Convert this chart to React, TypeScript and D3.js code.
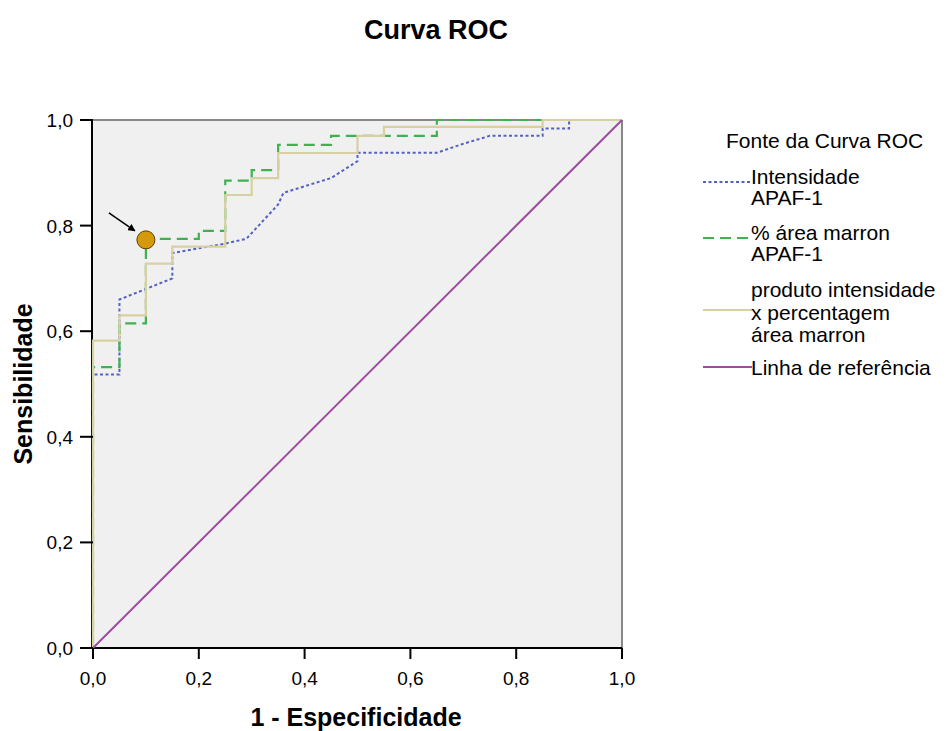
import * as d3 from 'd3';

type Pt = [number, number];

// curve points (1 - especificidade, sensibilidade)
const intensidade: Pt[] = [
  [0, 0], [0, 0.518], [0.05, 0.518], [0.05, 0.66], [0.15, 0.70], [0.15, 0.748],
  [0.25, 0.766], [0.29, 0.775], [0.35, 0.84], [0.36, 0.862], [0.45, 0.89],
  [0.5, 0.922], [0.5, 0.938], [0.65, 0.938], [0.7, 0.955], [0.75, 0.97],
  [0.85, 0.97], [0.85, 0.984], [0.9, 0.984], [0.9, 1], [1, 1],
];
const areaMarron: Pt[] = [
  [0, 0], [0, 0.532], [0.05, 0.532], [0.05, 0.615], [0.1, 0.615], [0.1, 0.775],
  [0.2, 0.775], [0.2, 0.79], [0.25, 0.79], [0.25, 0.885], [0.3, 0.885],
  [0.3, 0.905], [0.35, 0.905], [0.35, 0.953], [0.45, 0.953], [0.45, 0.97],
  [0.65, 0.97], [0.65, 1], [1, 1],
];
const produto: Pt[] = [
  [0, 0], [0, 0.582], [0.05, 0.582], [0.05, 0.63], [0.1, 0.63], [0.1, 0.728],
  [0.15, 0.728], [0.15, 0.76], [0.25, 0.76], [0.25, 0.858], [0.3, 0.858],
  [0.3, 0.89], [0.35, 0.89], [0.35, 0.9375], [0.5, 0.9375], [0.5, 0.97],
  [0.55, 0.97], [0.55, 0.987], [0.85, 0.987], [0.85, 1], [1, 1],
];
const referencia: Pt[] = [[0, 0], [1, 1]];

const ticks = [0, 0.2, 0.4, 0.6, 0.8, 1];
const cutPoint: Pt = [0.1, 0.773];

const series = [
  { name: ['Intensidade', 'APAF-1'], data: intensidade, color: '#5362c2', dash: '3,2.5', width: 2 },
  { name: ['% área marron', 'APAF-1'], data: areaMarron, color: '#3fb24f', dash: '11,6', width: 2.2 },
  { name: ['produto intensidade', 'x percentagem', 'área marron'], data: produto, color: '#d8d0a2', dash: '', width: 2.2 },
  { name: ['Linha de referência'], data: referencia, color: '#9b4d9e', dash: '', width: 2 },
];

export default function App() {
  const W = 948, H = 731;
  const m = { left: 93, right: 622, top: 120, bottom: 648 };
  const x = d3.scaleLinear().domain([0, 1]).range([m.left, m.right]);
  const y = d3.scaleLinear().domain([0, 1]).range([m.bottom, m.top]);
  const line = d3.line<Pt>().x(d => x(d[0])).y(d => y(d[1]));
  const fmt = (v: number) => v.toFixed(1).replace('.', ',');
  const font = '"Liberation Sans", Arial, sans-serif';

  // legend layout
  const legendLines = [182, 238, 310, 367];
  const legendText = [[184, 205], [240, 261], [297, 320, 342], [375]];

  return (
    <svg width={W} height={H} style={{ position: 'absolute', left: 0, top: 0, background: '#fff' }} fontFamily={font}>
      <text x={436} y={39} textAnchor="middle" fontSize={27} fontWeight="bold">Curva ROC</text>

      <rect x={m.left} y={m.top} width={m.right - m.left} height={m.bottom - m.top} fill="#f0f0f0" />
      <line x1={m.left} x2={m.right} y1={m.top} y2={m.top} stroke="#888" strokeWidth={2} />
      <line x1={m.right} x2={m.right} y1={m.top} y2={m.bottom} stroke="#888" strokeWidth={2} />

      <line x1={m.left - 1} x2={m.left - 1} y1={m.top} y2={m.bottom} stroke="#000" strokeWidth={2} />
      <line x1={m.left} x2={m.right} y1={m.bottom} y2={m.bottom} stroke="#000" strokeWidth={2} />

      {series.map((s, i) => (
        <path key={i} d={line(s.data) || ''} fill="none" stroke={s.color}
          strokeWidth={s.width} strokeDasharray={s.dash || undefined} />
      ))}

      {ticks.map(t => (
        <g key={'y' + t}>
          <line x1={m.left - 13} x2={m.left} y1={y(t)} y2={y(t)} stroke="#000" strokeWidth={2} />
          <text x={m.left - 20} y={y(t) + 7} textAnchor="end" fontSize={19}>{fmt(t)}</text>
        </g>
      ))}
      {ticks.map(t => (
        <g key={'x' + t}>
          <line x1={x(t)} x2={x(t)} y1={m.bottom} y2={m.bottom + 11} stroke="#000" strokeWidth={2} />
          <text x={x(t)} y={m.bottom + 37} textAnchor="middle" fontSize={19}>{fmt(t)}</text>
        </g>
      ))}

      <text x={356} y={726} textAnchor="middle" fontSize={25} fontWeight="bold">1 - Especificidade</text>
      <text transform={`translate(32,${(m.top + m.bottom) / 2}) rotate(-90)`} textAnchor="middle"
        fontSize={25} fontWeight="bold">Sensibilidade</text>

      {/* cut point marker */}
      <defs>
        <marker id="arr" viewBox="0 0 10 10" refX={9} refY={5} markerWidth={5} markerHeight={5} orient="auto">
          <path d="M0,0 L10,5 L0,10 Z" fill="#000" />
        </marker>
      </defs>
      <line x1={x(cutPoint[0]) - 37} y1={y(cutPoint[1]) - 27} x2={x(cutPoint[0]) - 11} y2={y(cutPoint[1]) - 9}
        stroke="#000" strokeWidth={1.5} markerEnd="url(#arr)" />
      <circle cx={x(cutPoint[0])} cy={y(cutPoint[1])} r={9} fill="#d49a0a" stroke="#5a4000" strokeWidth={1} />

      {/* legend */}
      <text x={726} y={148} fontSize={21}>Fonte da Curva ROC</text>
      {series.map((s, i) => (
        <g key={'lg' + i}>
          <line x1={703} x2={752} y1={legendLines[i]} y2={legendLines[i]} stroke={s.color}
            strokeWidth={2} strokeDasharray={s.dash || undefined} />
          {s.name.map((n, j) => (
            <text key={j} x={751} y={legendText[i][j]} fontSize={21}>{n}</text>
          ))}
        </g>
      ))}
    </svg>
  );
}
